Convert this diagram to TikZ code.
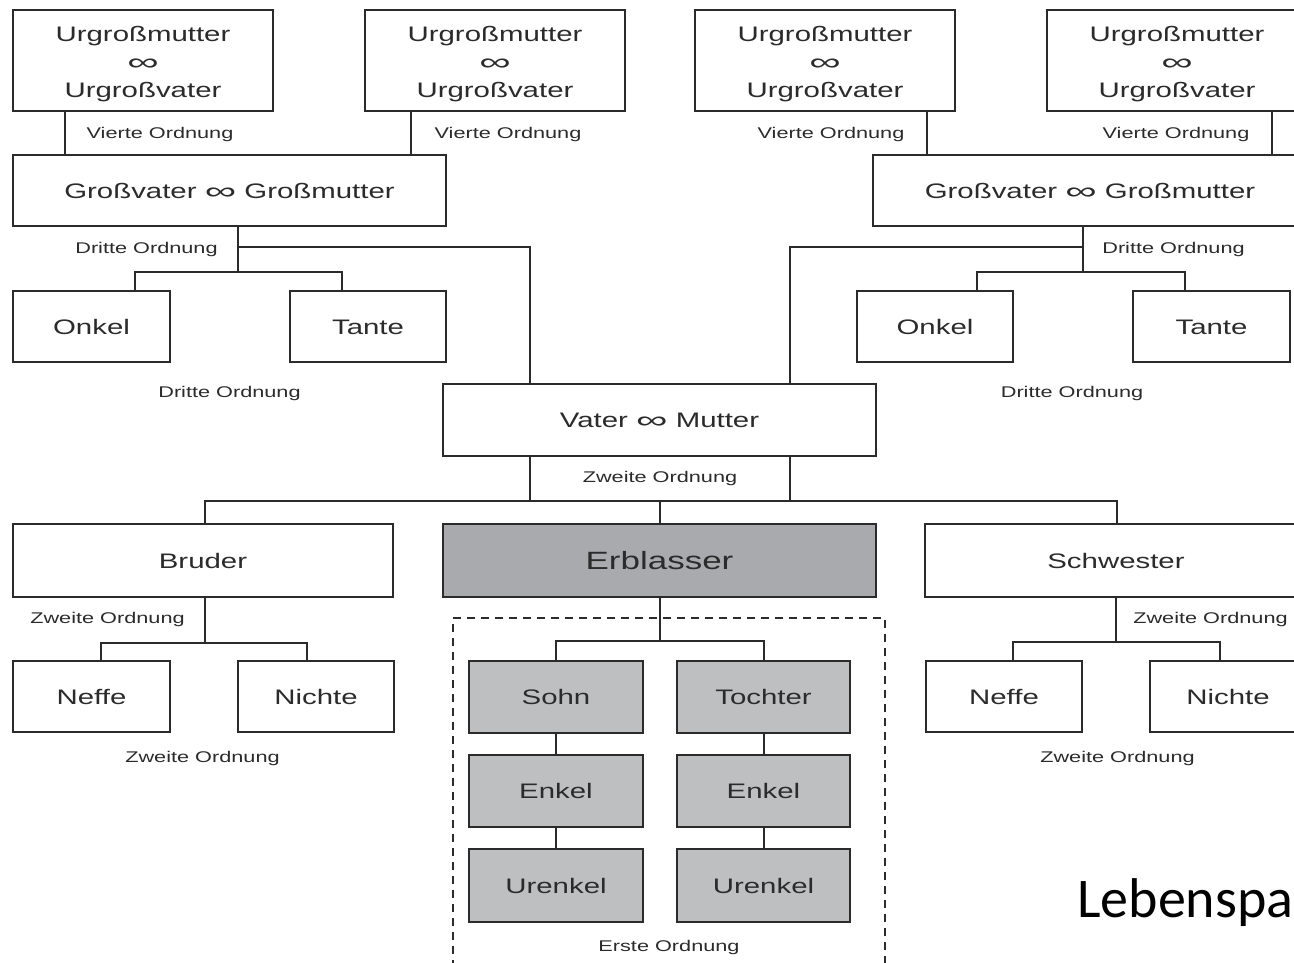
\documentclass[tikz,border=0pt]{standalone}
\usepackage{fontspec}
\setmainfont{Liberation Sans}
\newfontfamily\dfont{Liberation Sans}[FakeStretch=1.4]
\newfontfamily\slidefont{Carlito}
\definecolor{ink}{HTML}{2B2B2B}
\definecolor{erbfill}{HTML}{A8AAAD}
\definecolor{kidfill}{HTML}{BDBFC1}
% wide marriage sign
\newcommand{\wedsign}{\raisebox{-1pt}{\scalebox{1.5}[1.15]{∞}}}
\tikzset{
  famb/.style={draw=ink, line width=2pt, fill=white, inner sep=0pt, outer sep=0pt,
    font=\dfont\fontsize{21}{28}\selectfont, text=ink, text height=15pt, text depth=0pt},
  fam3/.style={draw=ink, line width=2pt, fill=white, inner sep=0pt, outer sep=0pt,
    font=\dfont\fontsize{21}{28}\selectfont, text=ink, align=center,
    minimum width=260pt, minimum height=101pt},
  kid/.style={famb, fill=kidfill, minimum width=174pt, minimum height=72pt},
  lbl/.style={font=\dfont\fontsize{15.5}{18}\selectfont, text=ink, inner sep=0pt,
    text height=11pt, text depth=0pt},
  link/.style={draw=ink, line width=2pt},
}
\begin{document}
\begin{tikzpicture}[x=1pt,y=-1pt]
\clip (0,0) rectangle (1294,963);
\fill[white] (0,0) rectangle (1294,963);

% first order frame
\node[draw=ink, line width=2pt, dash pattern=on 8pt off 6pt, inner sep=0pt,
      minimum width=432pt, minimum height=348pt] (erste) at (669,792) {};

% great-grandparents
\node[fam3] (ua) at (143,60.5) {\rule{0pt}{22pt}Urgroßmutter\\\wedsign\\Urgroßvater};
\node[fam3] (ub) at (495,60.5) {\rule{0pt}{22pt}Urgroßmutter\\\wedsign\\Urgroßvater};
\node[fam3] (uc) at (825,60.5) {\rule{0pt}{22pt}Urgroßmutter\\\wedsign\\Urgroßvater};
\node[fam3] (ud) at (1177,60.5) {\rule{0pt}{22pt}Urgroßmutter\\\wedsign\\Urgroßvater};

% grandparents
\node[famb, minimum width=433pt, minimum height=71pt] (gl) at (229.5,190.5) {Großvater \wedsign\ Großmutter};
\node[famb, minimum width=434pt, minimum height=71pt] (gr) at (1090,190.5) {Großvater \wedsign\ Großmutter};

% uncles and aunts
\node[famb, minimum width=157pt, minimum height=71pt] (onkl) at (91.5,326.5) {Onkel};
\node[famb, minimum width=156pt, minimum height=71pt] (tantl) at (368,326.5) {Tante};
\node[famb, minimum width=156pt, minimum height=71pt] (onkr) at (935,326.5) {Onkel};
\node[famb, minimum width=157pt, minimum height=71pt] (tantr) at (1211.5,326.5) {Tante};

% parents
\node[famb, minimum width=433pt, minimum height=72pt] (vater) at (659.5,420) {Vater \wedsign\ Mutter};

% siblings and deceased
\node[famb, minimum width=380pt, minimum height=73pt] (bruder) at (203,560.5) {Bruder};
\node[famb, fill=erbfill, minimum width=433pt, minimum height=73pt,
      font=\dfont\fontsize{25}{30}\selectfont, text height=18pt] (erb) at (659.5,560.5) {Erblasser};
\node[famb, minimum width=382pt, minimum height=73pt] (schw) at (1116,560.5) {Schwester};

% nephews and nieces
\node[famb, minimum width=157pt, minimum height=71pt] (neffl) at (91.5,696.5) {Neffe};
\node[famb, minimum width=156pt, minimum height=71pt] (nichl) at (316,696.5) {Nichte};
\node[famb, minimum width=156pt, minimum height=71pt] (neffr) at (1004,696.5) {Neffe};
\node[famb, minimum width=156pt, minimum height=71pt] (nichr) at (1228,696.5) {Nichte};

% descendants
\node[kid] (sohn) at (556,697) {Sohn};
\node[kid, minimum width=173pt] (toch) at (763.5,697) {Tochter};
\node[kid] (enk1) at (556,791) {Enkel};
\node[kid, minimum width=173pt] (enk2) at (763.5,791) {Enkel};
\node[kid, minimum height=73pt] (uenk1) at (556,885.5) {Urenkel};
\node[kid, minimum width=173pt, minimum height=73pt] (uenk2) at (763.5,885.5) {Urenkel};

% great-grandparents to grandparents
\draw[link] ([xshift=52pt]ua.south west) -- ([xshift=52pt]ua.south west |- gl.north);
\draw[link] ([xshift=46pt]ub.south west) -- ([xshift=46pt]ub.south west |- gl.north);
\draw[link] ([xshift=232pt]uc.south west) -- ([xshift=232pt]uc.south west |- gr.north);
\draw[link] ([xshift=225pt]ud.south west) -- ([xshift=225pt]ud.south west |- gr.north);

% left grandparents
\coordinate (gjl) at (238,272);
\coordinate (gkl) at (238,247);
\draw[link] (gl.south -| gjl) -- (gjl);
\draw[link] ([xshift=43.5pt]onkl.north) |- (gjl) -| ([xshift=-26pt]tantl.north);
\draw[link] (gkl) -| ([xshift=87pt]vater.north west);

% right grandparents
\coordinate (gjr) at (1083,272);
\coordinate (gkr) at (1083,247);
\draw[link] (gr.south -| gjr) -- (gjr);
\draw[link] ([xshift=42pt]onkr.north) |- (gjr) -| ([xshift=-26.5pt]tantr.north);
\draw[link] (gkr) -| ([xshift=-86pt]vater.north east);

% parents to children
\coordinate (vj) at (659.5,501);
\draw[link] ([xshift=87pt]vater.south west) -- ([xshift=87pt]vater.south west |- vj);
\draw[link] ([xshift=-86pt]vater.south east) -- ([xshift=-86pt]vater.south east |- vj);
\draw[link] ([xshift=2pt]bruder.north) |- (vj) -| ([xshift=1pt]schw.north);
\draw[link] (vj) -- (erb.north);

% brother
\coordinate (bj) at (205,643);
\draw[link] (bruder.south -| bj) -- (bj);
\draw[link] ([xshift=9.5pt]neffl.north) |- (bj) -| ([xshift=-9pt]nichl.north);

% sister
\coordinate (sj) at (1116,642);
\draw[link] (schw.south) -- (sj);
\draw[link] ([xshift=9pt]neffr.north) |- (sj) -| ([xshift=-8pt]nichr.north);

% deceased to descendants
\coordinate (ej) at (659.5,641);
\draw[link] (erb.south) -- (ej);
\draw[link] (sohn.north) |- (ej) -| (toch.north);
\draw[link] (sohn.south) -- (enk1.north);
\draw[link] (enk1.south) -- (uenk1.north);
\draw[link] (toch.south) -- (enk2.north);
\draw[link] (enk2.south) -- (uenk2.north);

% order labels
\node[lbl] (o4a) at (160,133) {Vierte Ordnung};
\node[lbl] (o4b) at (508,133) {Vierte Ordnung};
\node[lbl] (o4c) at (831,133) {Vierte Ordnung};
\node[lbl] (o4d) at (1176,133) {Vierte Ordnung};
\node[lbl] (o3a) at (146.5,248) {Dritte Ordnung};
\node[lbl] (o3b) at (229.5,392) {Dritte Ordnung};
\node[lbl] (o3c) at (1173.5,248) {Dritte Ordnung};
\node[lbl] (o3d) at (1072,392) {Dritte Ordnung};
\node[lbl] (o2a) at (660,476.5) {Zweite Ordnung};
\node[lbl] (o2b) at (107.5,618) {Zweite Ordnung};
\node[lbl] (o2c) at (202.5,757) {Zweite Ordnung};
\node[lbl] (o2d) at (1210.5,618) {Zweite Ordnung};
\node[lbl] (o2e) at (1117.5,757) {Zweite Ordnung};
\node[lbl] (o1) at (669,946) {Erste Ordnung};

% slide caption
\node[anchor=base west, inner sep=0pt, font=\slidefont\fontsize{56}{60}\selectfont, text=black]
  (cap) at (1077,917) {Lebenspa};
\end{tikzpicture}
\end{document}
